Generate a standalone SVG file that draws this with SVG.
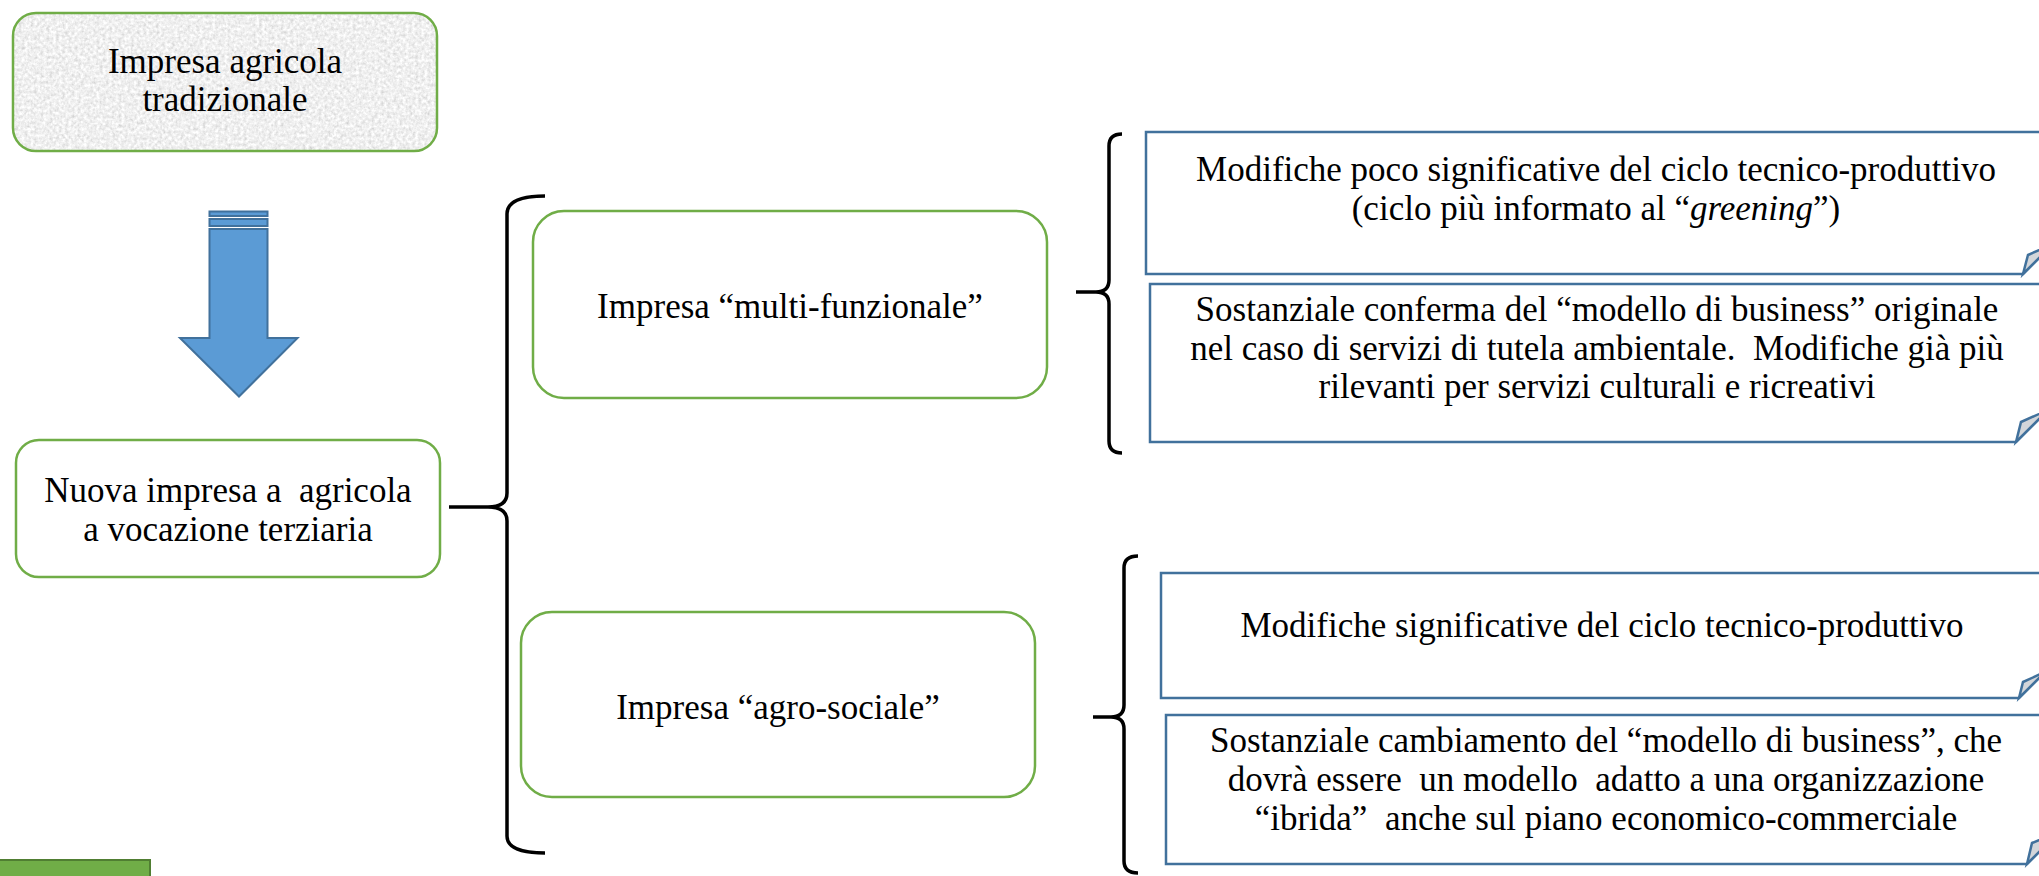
<svg xmlns="http://www.w3.org/2000/svg" width="2039" height="876" viewBox="0 0 2039 876">
  <style>
    .lbl { font-family: "Liberation Serif", "Times New Roman", serif; font-size: 35px; fill: #000; text-anchor: middle; }
    .green { fill: #ffffff; stroke: #70AD47; stroke-width: 2.5; }
    .note { fill: #ffffff; stroke: #41719C; stroke-width: 2.5; stroke-linejoin: miter; }
    .fold { fill: #D3D6DA; stroke: #41719C; stroke-width: 2.5; stroke-linejoin: miter; }
    .brace { fill: none; stroke: #000; stroke-width: 3.5; stroke-linecap: butt; stroke-linejoin: round; }
    .arrow { fill: #5B9BD5; stroke: #41719C; stroke-width: 2; }
  </style>
  <defs>
    <!-- speckled stone fill for the starting box -->
    <filter id="granite" x="0" y="0" width="100%" height="100%">
      <feTurbulence type="fractalNoise" baseFrequency="0.32" numOctaves="3" seed="7" result="noise"/>
      <feColorMatrix in="noise" type="saturate" values="0" result="grey"/>
      <feComponentTransfer in="grey" result="tone">
        <feFuncR type="linear" slope="0.7" intercept="0.52"/>
        <feFuncG type="linear" slope="0.7" intercept="0.52"/>
        <feFuncB type="linear" slope="0.7" intercept="0.52"/>
        <feFuncA type="linear" slope="0" intercept="1"/>
      </feComponentTransfer>
      <feComposite in="tone" in2="SourceAlpha" operator="in"/>
    </filter>
  </defs>

  <rect width="2039" height="876" fill="#ffffff"/>

  <!-- starting node -->
  <g id="impresa-tradizionale">
    <rect x="13" y="13" width="424" height="138" rx="23" ry="23" fill="#e8e8e8" filter="url(#granite)"/>
    <rect x="13" y="13" width="424" height="138" rx="23" ry="23" fill="none" stroke="#70AD47" stroke-width="2.5"/>
    <text class="lbl" x="225" y="73">Impresa agricola</text>
    <text class="lbl" x="225" y="111">tradizionale</text>
  </g>

  <!-- striped down arrow -->
  <g id="freccia">
    <rect class="arrow" x="209.5" y="211.5" width="58" height="4.5"/>
    <rect class="arrow" x="209.5" y="219" width="58" height="7"/>
    <polygon class="arrow" points="209.5,229 267.5,229 267.5,338 297.5,338 239,396.5 180,338 209.5,338"/>
  </g>

  <g id="nuova-impresa">
    <rect class="green" x="16" y="440" width="424" height="137" rx="23" ry="23"/>
    <text class="lbl" x="228" y="502" xml:space="preserve">Nuova impresa a  agricola</text>
    <text class="lbl" x="228" y="541">a vocazione terziaria</text>
  </g>

  <g id="multi-funzionale">
    <rect class="green" x="533" y="211" width="514" height="187" rx="31" ry="31"/>
    <text class="lbl" x="790" y="318">Impresa “multi-funzionale”</text>
  </g>

  <g id="agro-sociale">
    <rect class="green" x="521" y="612" width="514" height="185" rx="31" ry="31"/>
    <text class="lbl" x="778" y="719">Impresa “agro-sociale”</text>
  </g>

  <!-- note boxes with folded bottom-right corner -->
  <g id="nota-a1">
    <path class="note" d="M1146,132 H2053 V244 L2023,274 H1146 Z"/>
    <path class="fold" d="M2023,274 L2028,255 L2053,244 Z"/>
    <text class="lbl" x="1596" y="181">Modifiche poco significative del ciclo tecnico-produttivo</text>
    <text class="lbl" x="1596" y="220">(ciclo più informato al “<tspan font-style="italic">greening</tspan>”)</text>
  </g>

  <g id="nota-a2">
    <path class="note" d="M1150,284 H2048 V410 L2016,442 H1150 Z"/>
    <path class="fold" d="M2016,442 L2021,422 L2048,410 Z"/>
    <text class="lbl" x="1597" y="321">Sostanziale conferma del “modello di business” originale</text>
    <text class="lbl" x="1597" y="360" xml:space="preserve">nel caso di servizi di tutela ambientale.  Modifiche già più</text>
    <text class="lbl" x="1597" y="398">rilevanti per servizi culturali e ricreativi</text>
  </g>

  <g id="nota-b1">
    <path class="note" d="M1161,573 H2045 V672 L2019,698 H1161 Z"/>
    <path class="fold" d="M2019,698 L2023,682 L2045,672 Z"/>
    <text class="lbl" x="1602" y="637">Modifiche significative del ciclo tecnico-produttivo</text>
  </g>

  <g id="nota-b2">
    <path class="note" d="M1166,715 H2059 V832 L2027,864 H1166 Z"/>
    <path class="fold" d="M2027,864 L2032,843 L2059,832 Z"/>
    <text class="lbl" x="1606" y="752">Sostanziale cambiamento del “modello di business”, che</text>
    <text class="lbl" x="1606" y="791" xml:space="preserve">dovrà essere  un modello  adatto a una organizzazione</text>
    <text class="lbl" x="1606" y="830" xml:space="preserve">“ibrida”  anche sul piano economico-commerciale</text>
  </g>

  <!-- corner tab -->
  <g id="tab">
    <rect x="-2" y="860" width="152" height="20" fill="#70AD47" stroke="#507E32" stroke-width="2"/>
  </g>

  <!-- braces linking the levels -->
  <g id="connettori">
    <path class="brace" d="M545,196 Q507,196 507,214 L507,493 Q507,507 488,507 L449,507 M488,507 Q507,507 507,521 L507,836 Q507,853 545,853"/>
    <path class="brace" d="M1122,134 Q1109,134 1109,146 L1109,280 Q1109,292 1096,292 L1076,292 M1096,292 Q1109,292 1109,304 L1109,441 Q1109,453 1122,453"/>
    <path class="brace" d="M1138,556 Q1124,556 1124,568 L1124,705 Q1124,717 1111,717 L1093,717 M1111,717 Q1124,717 1124,729 L1124,861 Q1124,873 1138,873"/>
  </g>
</svg>
